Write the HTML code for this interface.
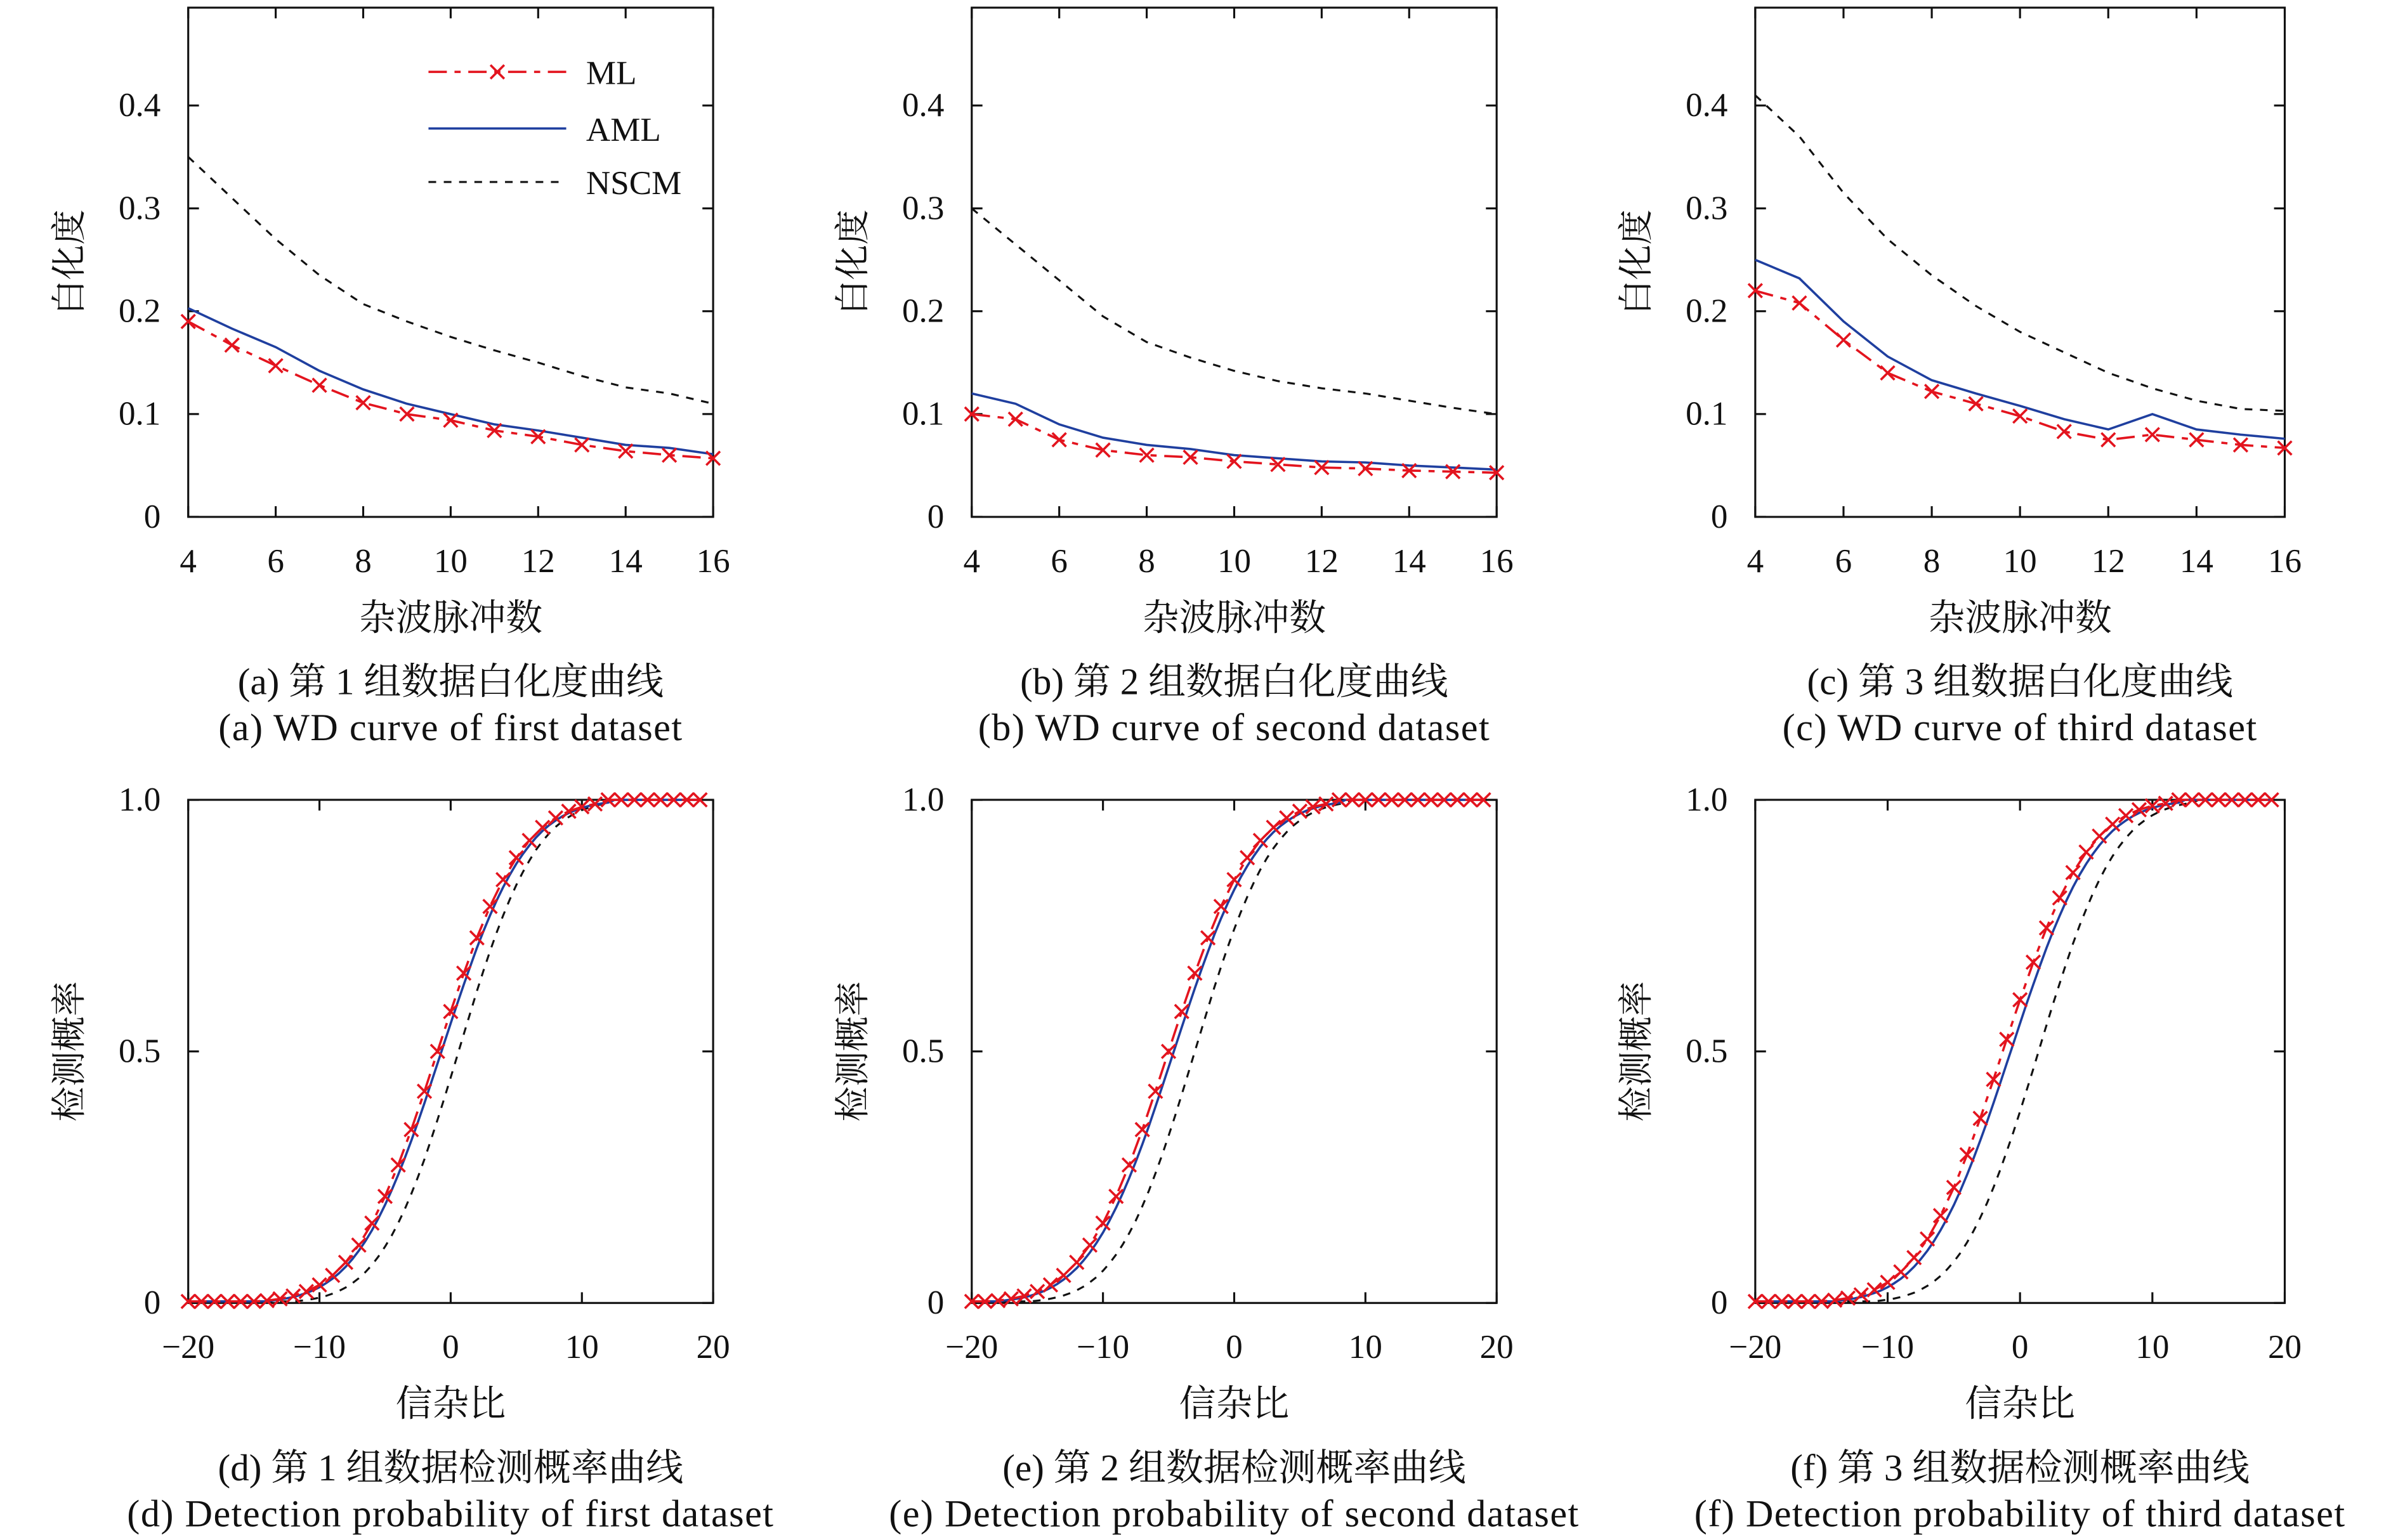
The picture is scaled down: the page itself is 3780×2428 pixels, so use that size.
<!DOCTYPE html>
<html><head><meta charset="utf-8"><style>
html,body{margin:0;padding:0;background:#fff}
svg{display:block}
text{font-family:"Liberation Serif","Noto Serif CJK SC",serif;fill:#111}
</style></head><body>
<svg id="s" width="3780" height="2428" viewBox="0 0 1567 1007" preserveAspectRatio="none" xmlns="http://www.w3.org/2000/svg"></svg>
<script>
(function(){
const S=document.getElementById('s');let h='';
const RED='#e3141e',BLUE='#1f3f9f';
function erf(x){const t=1/(1+0.3275911*Math.abs(x));const y=1-(((((1.061405429*t-1.453152027)*t)+1.421413741)*t-0.284496736)*t+0.254829592)*t*Math.exp(-x*x);return x>=0?y:-y;}
function Phi(x){return 0.5*(1+erf(x/Math.SQRT2));}
function panel(x0,x1,y0,yb,xmin,xmax,ymin,ymax,xt,yt,ytl,series,xlabel,ylabel,cap1,cap2,ylab){
 const X=v=>x0+(v-xmin)/(xmax-xmin)*(x1-x0);
 const Y=v=>yb-(v-ymin)/(ymax-ymin)*(yb-ylab);
 h+=`<rect x="${x0}" y="${y0}" width="${x1-x0}" height="${yb-y0}" fill="none" stroke="#111" stroke-width="1.3"/>`;
 xt.forEach(v=>{const x=X(v);h+=`<line x1="${x}" y1="${yb}" x2="${x}" y2="${yb-7}" stroke="#111" stroke-width="1.3"/><line x1="${x}" y1="${y0}" x2="${x}" y2="${y0+7}" stroke="#111" stroke-width="1.3"/><text x="${x}" y="${yb+36}" font-size="22" text-anchor="middle">${v<0?'−'+(-v):v}</text>`;});
 yt.forEach((v,i)=>{const y=Y(v);h+=`<line x1="${x0}" y1="${y}" x2="${x0+7}" y2="${y}" stroke="#111" stroke-width="1.3"/><line x1="${x1}" y1="${y}" x2="${x1-7}" y2="${y}" stroke="#111" stroke-width="1.3"/><text x="${x0-18}" y="${y+7}" font-size="22" text-anchor="end">${ytl[i]}</text>`;});
 series.forEach(s=>{const pts=s.d.map(p=>X(p[0]).toFixed(1)+','+Y(p[1]).toFixed(1)).join(' ');
  h+=`<polyline points="${pts}" fill="none" stroke="${s.c}" stroke-width="${s.w||1.5}" ${s.dash?'stroke-dasharray="'+s.dash+'"':''}/>`;
  if(s.m) s.d.forEach(p=>{if(p[0]%1!==0)return;const x=X(p[0]),y=Y(p[1]);h+=`<path d="M${x-4.5} ${y-4.5}L${x+4.5} ${y+4.5}M${x-4.5} ${y+4.5}L${x+4.5} ${y-4.5}" stroke="${RED}" stroke-width="1.5"/>`;});
 });
 const cx=(x0+x1)/2;
 h+=`<text x="${cx}" y="${yb+74}" font-size="24" text-anchor="middle">${xlabel}</text>`;
 const cy=(y0+yb)/2;
 h+=`<text transform="translate(${x0-70},${cy}) rotate(-90)" font-size="23" text-anchor="middle">${ylabel}</text>`;
 h+=`<text x="${cx}" y="${yb+116}" font-size="24.5" text-anchor="middle">${cap1}</text>`;
 h+=`<text x="${cx}" y="${yb+146}" font-size="25" letter-spacing="0.6" text-anchor="middle">${cap2}</text>`;
}
const N=[4,5,6,7,8,9,10,11,12,13,14,15,16];
const z=a=>a.map((v,i)=>[N[i],v]);
const topData=[
 [123,466,[0.19,0.167,0.147,0.128,0.111,0.1,0.094,0.084,0.078,0.07,0.064,0.06,0.057],[0.203,0.183,0.165,0.142,0.124,0.11,0.1,0.09,0.084,0.077,0.07,0.067,0.061],[0.35,0.31,0.27,0.235,0.207,0.19,0.175,0.162,0.15,0.137,0.126,0.12,0.11],'(a) 第 1 组数据白化度曲线','(a) WD curve of first dataset'],
 [635,978,[0.1,0.095,0.075,0.065,0.06,0.058,0.054,0.051,0.048,0.047,0.045,0.044,0.043],[0.12,0.11,0.09,0.077,0.07,0.066,0.06,0.057,0.054,0.053,0.05,0.048,0.046],[0.3,0.265,0.23,0.195,0.17,0.155,0.142,0.132,0.125,0.12,0.113,0.106,0.1],'(b) 第 2 组数据白化度曲线','(b) WD curve of second dataset'],
 [1147,1493,[0.22,0.208,0.172,0.14,0.122,0.11,0.098,0.083,0.075,0.08,0.075,0.07,0.067],[0.25,0.232,0.19,0.156,0.133,0.12,0.108,0.095,0.085,0.1,0.085,0.08,0.076],[0.41,0.37,0.315,0.27,0.235,0.205,0.18,0.16,0.14,0.125,0.113,0.105,0.103],'(c) 第 3 组数据白化度曲线','(c) WD curve of third dataset']];
topData.forEach(t=>{
 panel(t[0],t[1],5,338,4,16,0,0.4,[4,6,8,10,12,14,16],[0,0.1,0.2,0.3,0.4],['0','0.1','0.2','0.3','0.4'],
 [{d:z(t[4]),c:'#111',dash:'5,5',w:1.3},{d:z(t[3]),c:BLUE},{d:z(t[2]),c:RED,dash:'12,5,4,5',m:1}],'杂波脉冲数','白化度',t[5],t[6],69);
});
h+=`<line x1="280" y1="47" x2="370" y2="47" stroke="${RED}" stroke-width="1.5" stroke-dasharray="12,5,4,5"/><path d="M320.5 42.5L329.5 51.5M320.5 51.5L329.5 42.5" stroke="${RED}" stroke-width="1.5"/>`;
h+=`<line x1="280" y1="84" x2="370" y2="84" stroke="${BLUE}" stroke-width="1.5"/>`;
h+=`<line x1="280" y1="119" x2="370" y2="119" stroke="#111" stroke-width="1.3" stroke-dasharray="5,5"/>`;
h+=`<text x="383" y="55" font-size="22">ML</text><text x="383" y="92" font-size="22">AML</text><text x="383" y="127" font-size="22">NSCM</text>`;
function curve(mu,s,step){const a=[];for(let x=-20;x<=19.001;x+=step){let v=Phi((x-mu)/s);if(v<0.004)v=0.003;if(v>0.995)v=1;a.push([Math.round(x*10)/10,v]);}return a;}
const botData=[
 [123,466,-1,-0.7,0.6,'(d) 第 1 组数据检测概率曲线','(d) Detection probability of first dataset'],
 [635,978,-5,-4.6,-3,'(e) 第 2 组数据检测概率曲线','(e) Detection probability of second dataset'],
 [1147,1493,-1.3,-0.7,1.4,'(f) 第 3 组数据检测概率曲线','(f) Detection probability of third dataset']];
botData.forEach(t=>{
 panel(t[0],t[1],523,852,-20,20,0,1,[-20,-10,0,10,20],[0,0.5,1],['0','0.5','1.0'],
 [{d:curve(t[4],4.6,0.5),c:'#111',dash:'5,5',w:1.3},{d:curve(t[3],5,0.5),c:BLUE},{d:curve(t[2],5,1),c:RED,dash:'12,5,4,5',m:1}],'信杂比','检测概率',t[5],t[6],523);
});
S.innerHTML=h;
})();
</script>
</body></html>
